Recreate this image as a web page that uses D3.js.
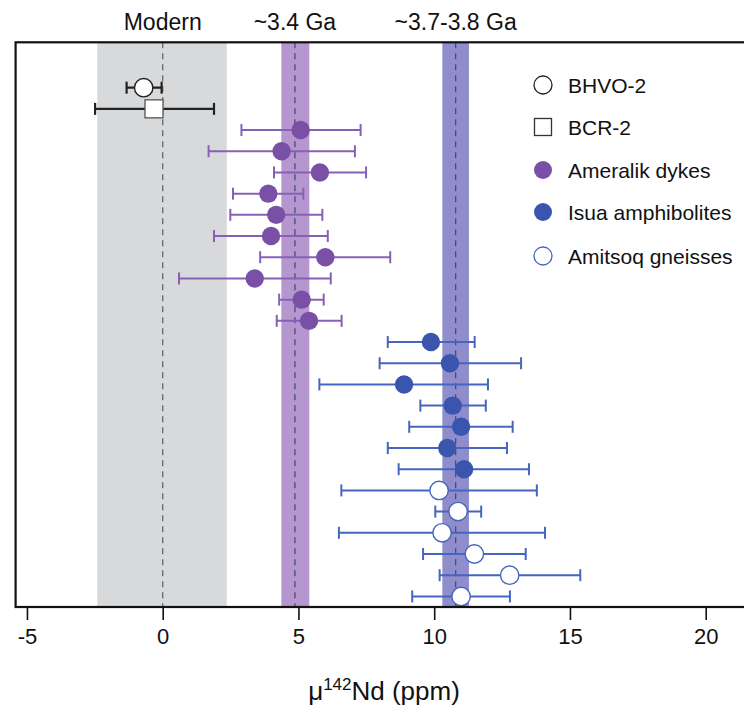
<!DOCTYPE html>
<html><head><meta charset="utf-8">
<script src="https://cdn.jsdelivr.net/npm/d3@7"></script>
<style>body{margin:0;background:#fff}svg{display:block;font-family:"Liberation Sans",Arial,Helvetica,sans-serif}</style>
</head><body><svg id="c" width="744" height="722"></svg>
<script>
// ---- data ----
const standardNames = ["BHVO-2", "BCR-2"];
const standardVal = [-0.7, -0.32];
const standardLo = [-1.33, -2.49];
const standardHi = [-0.04, 1.89];

const ameralikVal = [5.08, 4.38, 5.79, 3.89, 4.18, 3.99, 5.99, 3.39, 5.12, 5.39];
const ameralikLo  = [2.90, 1.69, 4.10, 2.59, 2.49, 1.89, 3.59, 0.60, 4.29, 4.20];
const ameralikHi  = [7.29, 7.08, 7.49, 5.18, 5.88, 6.08, 8.38, 6.19, 5.93, 6.59];

const isuaVal = [9.88, 10.58, 8.89, 10.68, 10.99, 10.48, 11.10];
const isuaLo  = [8.29, 7.99, 5.77, 9.49, 9.08, 8.29, 8.69];
const isuaHi  = [11.49, 13.20, 11.98, 11.90, 12.89, 12.68, 13.49];

const amitsoqVal = [10.18, 10.88, 10.29, 11.48, 12.78, 10.99];
const amitsoqLo  = [6.58, 10.04, 6.49, 9.59, 10.20, 9.19];
const amitsoqHi  = [13.78, 11.73, 14.08, 13.37, 15.38, 12.79];

const bandNames = ["Modern", "~3.4 Ga", "~3.7-3.8 Ga"];
const bandLo = [-2.41, 4.37, 10.30];
const bandHi = [2.36, 5.40, 11.28];
const bandMid = [0, 4.87, 10.79];

const xTicks = [-5, 0, 5, 10, 15, 20];
const xTickLabels = ["-5", "0", "5", "10", "15", "20"];
const legendLabels = ["BHVO-2", "BCR-2", "Ameralik dykes", "Isua amphibolites", "Amitsoq gneisses"];

// ---- styles ----
const PURPLE = "#7a4fa6", BLUE = "#3a55ad";
const PURPLE_BAR = "#8660b6", BLUE_BAR = "#4665c0";
const bandColors = ["#d8d9db", "#b596cf", "#8f8dcb"];

// ---- layout ----
const svg = d3.select("#c");
const mLeft = 15.6, mTop = 42.3, mBottom = 607, mRight = 770;
const x = d3.scaleLinear().domain([-5, 20]).range([26.95, 705.7]);
const y = d3.scaleLinear().domain([-2.14, 24.5]).range([mTop, mBottom]);

// build rows
const rows = [];
let r = 0;
standardNames.forEach((n, i) => rows.push({row: r++, v: standardVal[i], lo: standardLo[i], hi: standardHi[i], kind: i === 0 ? "circle" : "square", fill: "#fff", stroke: "#222", bar: "#222"}));
ameralikVal.forEach((v, i) => rows.push({row: r++, v, lo: ameralikLo[i], hi: ameralikHi[i], kind: "circle", fill: PURPLE, stroke: PURPLE, bar: PURPLE_BAR}));
isuaVal.forEach((v, i) => rows.push({row: r++, v, lo: isuaLo[i], hi: isuaHi[i], kind: "circle", fill: BLUE, stroke: BLUE, bar: BLUE_BAR}));
amitsoqVal.forEach((v, i) => rows.push({row: r++, v, lo: amitsoqLo[i], hi: amitsoqHi[i], kind: "circle", fill: "#fff", stroke: BLUE_BAR, bar: BLUE_BAR}));

// bands
bandNames.forEach((n, i) => {
  svg.append("rect").attr("x", x(bandLo[i])).attr("y", mTop).attr("width", x(bandHi[i]) - x(bandLo[i])).attr("height", mBottom - mTop).attr("fill", bandColors[i]);
  svg.append("line").attr("x1", x(bandMid[i])).attr("x2", x(bandMid[i])).attr("y1", mTop).attr("y2", mBottom)
    .attr("stroke", i === 0 ? "#666" : "#4a4a7a").attr("stroke-width", 1.3).attr("stroke-dasharray", "6,5");
  svg.append("text").attr("x", x(bandMid[i])).attr("y", 30).attr("text-anchor", "middle").attr("font-size", 23).attr("fill", "#111").text(n);
});

// error bars
const cap = 6;
const eb = svg.append("g");
rows.forEach(d => {
  const yy = y(d.row);
  const sw = d.bar === "#222" ? 2.2 : 2;
  eb.append("line").attr("x1", x(d.lo)).attr("x2", x(d.hi)).attr("y1", yy).attr("y2", yy).attr("stroke", d.bar).attr("stroke-width", sw);
  [d.lo, d.hi].forEach(e => eb.append("line").attr("x1", x(e)).attr("x2", x(e)).attr("y1", yy - cap).attr("y2", yy + cap).attr("stroke", d.bar).attr("stroke-width", sw));
});
// markers
rows.forEach(d => {
  const yy = y(d.row);
  if (d.kind === "square") {
    svg.append("rect").attr("x", x(d.v) - 9).attr("y", yy - 9).attr("width", 18).attr("height", 18).attr("fill", d.fill).attr("stroke", "#555").attr("stroke-width", 1.3);
  } else {
    svg.append("circle").attr("cx", x(d.v)).attr("cy", yy).attr("r", 9.2).attr("fill", d.fill).attr("stroke", d.fill === "#fff" ? d.stroke : "none").attr("stroke-width", 1.4);
  }
});

// frame
svg.append("rect").attr("x", mLeft).attr("y", mTop).attr("width", mRight - mLeft).attr("height", mBottom - mTop).attr("fill", "none").attr("stroke", "#111").attr("stroke-width", 2.2);

// axis
const ax = svg.append("g").attr("transform", `translate(0,${mBottom})`)
  .call(d3.axisBottom(x).tickValues(xTicks).tickSize(13).tickPadding(8).tickFormat((d, i) => xTickLabels[i]));
ax.select(".domain").remove();
ax.selectAll(".tick line").attr("stroke", "#111").attr("stroke-width", 1.6);
ax.selectAll(".tick text").attr("font-size", 22).attr("fill", "#111").attr("font-family", "Liberation Sans, Arial, sans-serif");

// axis title
const t = svg.append("text").attr("x", 384).attr("y", 700).attr("text-anchor", "middle").attr("font-size", 26).attr("fill", "#111");
t.append("tspan").text("\u03bc");
t.append("tspan").attr("font-size", 17).attr("dy", -10).text("142");
t.append("tspan").attr("dy", 10).text("Nd (ppm)");

// legend
const legY = [85, 127, 170, 212, 256];
const legendKinds = [
  {kind: "circle", fill: "#fff", stroke: "#222"},
  {kind: "square", fill: "#fff", stroke: "#333"},
  {kind: "circle", fill: PURPLE, stroke: "none"},
  {kind: "circle", fill: BLUE, stroke: "none"},
  {kind: "circle", fill: "#fff", stroke: BLUE_BAR}
];
legendLabels.forEach((lab, i) => {
  const k = legendKinds[i], cx = 543, cy = legY[i];
  if (k.kind === "square") svg.append("rect").attr("x", cx - 8.5).attr("y", cy - 8.5).attr("width", 17).attr("height", 17).attr("fill", "#fff").attr("stroke", k.stroke).attr("stroke-width", 1.3);
  else svg.append("circle").attr("cx", cx).attr("cy", cy).attr("r", 9).attr("fill", k.fill).attr("stroke", k.stroke).attr("stroke-width", 1.3);
  svg.append("text").attr("x", 568).attr("y", cy).attr("dy", "0.36em").attr("font-size", 21).attr("fill", "#111").text(lab);
});
</script></body></html>
